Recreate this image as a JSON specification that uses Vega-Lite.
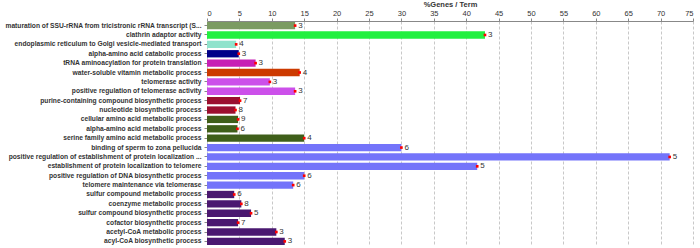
{
  "$schema": "https://vega.github.io/schema/vega-lite/v6.json",
  "width": 486,
  "height": 225,
  "autosize": {"type": "none"},
  "padding": {"left": 207, "top": 21, "right": 7, "bottom": 2},
  "background": "white",
  "config": {
    "view": {"stroke": null},
    "font": "Liberation Sans"
  },
  "data": {
    "values": [
      {"term": "maturation of SSU-rRNA from tricistronic rRNA transcript (S...", "pct": 13.6, "genes": 3, "group": "g1"},
      {"term": "clathrin adaptor activity", "pct": 42.9, "genes": 3, "group": "g2"},
      {"term": "endoplasmic reticulum to Golgi vesicle-mediated transport", "pct": 4.5, "genes": 4, "group": "g3"},
      {"term": "alpha-amino acid catabolic process", "pct": 4.9, "genes": 3, "group": "g4"},
      {"term": "tRNA aminoacylation for protein translation", "pct": 7.5, "genes": 3, "group": "g5"},
      {"term": "water-soluble vitamin metabolic process", "pct": 14.3, "genes": 4, "group": "g6"},
      {"term": "telomerase activity", "pct": 9.7, "genes": 3, "group": "g7"},
      {"term": "positive regulation of telomerase activity", "pct": 13.6, "genes": 3, "group": "g7"},
      {"term": "purine-containing compound biosynthetic process", "pct": 5.1, "genes": 7, "group": "g8"},
      {"term": "nucleotide biosynthetic process", "pct": 4.4, "genes": 8, "group": "g8"},
      {"term": "cellular amino acid metabolic process", "pct": 4.8, "genes": 9, "group": "g9"},
      {"term": "alpha-amino acid metabolic process", "pct": 4.7, "genes": 6, "group": "g9"},
      {"term": "serine family amino acid metabolic process", "pct": 15.0, "genes": 4, "group": "g9"},
      {"term": "binding of sperm to zona pellucida", "pct": 30.0, "genes": 6, "group": "g10"},
      {"term": "positive regulation of establishment of protein localization ...", "pct": 71.4, "genes": 5, "group": "g10"},
      {"term": "establishment of protein localization to telomere", "pct": 41.7, "genes": 5, "group": "g10"},
      {"term": "positive regulation of DNA biosynthetic process", "pct": 15.0, "genes": 6, "group": "g10"},
      {"term": "telomere maintenance via telomerase", "pct": 13.3, "genes": 6, "group": "g10"},
      {"term": "sulfur compound metabolic process", "pct": 4.2, "genes": 6, "group": "g11"},
      {"term": "coenzyme metabolic process", "pct": 5.3, "genes": 8, "group": "g11"},
      {"term": "sulfur compound biosynthetic process", "pct": 6.8, "genes": 5, "group": "g11"},
      {"term": "cofactor biosynthetic process", "pct": 4.8, "genes": 7, "group": "g11"},
      {"term": "acetyl-CoA metabolic process", "pct": 10.7, "genes": 3, "group": "g11"},
      {"term": "acyl-CoA biosynthetic process", "pct": 12.0, "genes": 3, "group": "g11"}
    ]
  },
  "encoding": {
    "y": {
      "field": "term",
      "type": "nominal",
      "sort": null,
      "scale": {"paddingInner": 0.22, "paddingOuter": 0.1},
      "axis": {
        "title": null,
        "labelFontSize": 6.7,
        "labelFontWeight": "bold",
        "labelColor": "#333333",
        "labelLimit": 206,
        "labelPadding": 3,
        "tickSize": 3,
        "tickColor": "#888888",
        "domain": false,
        "grid": false
      }
    },
    "x": {
      "field": "pct",
      "type": "quantitative",
      "scale": {"domain": [0, 75], "nice": false},
      "axis": {
        "orient": "top",
        "title": "%Genes / Term",
        "titleFontSize": 7.5,
        "titleFontWeight": "bold",
        "titleColor": "#333333",
        "titlePadding": 1,
        "values": [0, 5, 10, 15, 20, 25, 30, 35, 40, 45, 50, 55, 60, 65, 70, 75],
        "labelFontSize": 7.5,
        "labelColor": "#333333",
        "labelPadding": 1,
        "tickSize": 3,
        "tickColor": "#888888",
        "domainColor": "#888888",
        "grid": true,
        "gridColor": "#c8c8c8",
        "gridDash": [3, 2]
      }
    }
  },
  "layer": [
    {
      "mark": {"type": "bar"},
      "encoding": {
        "color": {
          "field": "group",
          "type": "nominal",
          "legend": null,
          "scale": {
            "domain": ["g1", "g2", "g3", "g4", "g5", "g6", "g7", "g8", "g9", "g10", "g11"],
            "range": ["#7b9b62", "#22f040", "#8fe3cc", "#000088", "#c71fb5", "#cc3a00", "#cc50ea", "#9b0f2f", "#3f5f1a", "#7474fa", "#4a1870"]
          }
        }
      }
    },
    {
      "mark": {"type": "point", "shape": "square", "filled": true, "size": 7, "color": "#ff0000", "opacity": 1},
      "encoding": {}
    },
    {
      "mark": {"type": "text", "align": "left", "dx": 3, "fontSize": 8, "color": "#333333", "baseline": "middle"},
      "encoding": {"text": {"field": "genes", "type": "quantitative"}}
    }
  ]
}
